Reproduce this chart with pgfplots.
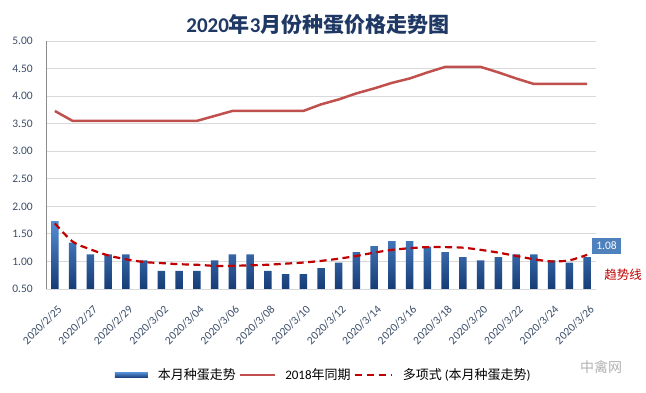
\documentclass[border=0pt]{standalone}
\usepackage{fontspec}
\setmainfont{Carlito}
\newfontfamily\cjk{Noto Sans CJK SC}
\usepackage{pgfplots}
\pgfplotsset{compat=1.18}
\definecolor{titleblue}{RGB}{31,56,100}
\definecolor{ticktext}{RGB}{60,78,104}
\definecolor{gridgray}{RGB}{217,217,217}
\definecolor{axisgray}{RGB}{140,140,140}
\definecolor{barTop}{RGB}{84,141,212}
\definecolor{barBot}{RGB}{22,60,118}
\definecolor{barMid}{RGB}{46,100,170}
\definecolor{line2018}{RGB}{192,80,77}
\definecolor{trendred}{RGB}{192,0,0}
\definecolor{labelblue}{RGB}{79,129,189}
\begin{document}
\begin{tikzpicture}
\path[use as bounding box] (0,0) rectangle (646bp,393bp);
\fill[white] (0,0) rectangle (646bp,393bp);
\node[font=\fontsize{21bp}{24bp}\selectfont\bfseries, text=titleblue] at (318bp,368bp) {2020{\cjk 年}3{\cjk 月份种蛋价格走势图}};
\begin{axis}[
  at={(46bp,104bp)}, anchor=south west,
  scale only axis, width=550bp, height=248bp,
  xmin=0.5, xmax=31.5, ymin=0.5, ymax=5,
  axis lines*=left,
  x axis line style={draw=gridgray, line width=0.8bp},
  y axis line style={draw=axisgray, line width=0.8bp},
  ymajorgrids, major grid style={draw=gridgray, line width=0.8bp},
  major tick length=0pt,
  ytick={0.5,1,1.5,2,2.5,3,3.5,4,4.5,5},
  yticklabel style={/pgf/number format/fixed, /pgf/number format/fixed zerofill, /pgf/number format/precision=2, /pgf/number format/assume math mode=true},
  yticklabel style={font=\fontsize{11.5bp}{13bp}\selectfont, text=ticktext, anchor=east, inner sep=0pt, xshift=-13bp},
  xtick={1,3,5,7,9,11,13,15,17,19,21,23,25,27,29,31},
  xticklabels={2020/2/25,2020/2/27,2020/2/29,2020/3/02,2020/3/04,2020/3/06,2020/3/08,2020/3/10,2020/3/12,2020/3/14,2020/3/16,2020/3/18,2020/3/20,2020/3/22,2020/3/24,2020/3/26},
  xticklabel style={font=\fontsize{11.5bp}{13bp}\selectfont, text=ticktext, inner sep=0pt, xshift=2bp, yshift=-15bp, rotate=45, anchor=north east},
  legend columns=3,
  legend style={at={(0.505,-0.347)}, anchor=center, draw=none, fill=none,
    font=\fontsize{13bp}{15bp}\selectfont,
    /tikz/every odd column/.append style={column sep=8bp},
    /tikz/every even column/.append style={column sep=1bp}},
]
\addplot[ybar, bar width=7.5bp, draw=none, top color=barTop, bottom color=barBot,
  legend image code/.code={\fill[barMid] (0bp,-2.6bp) rectangle (33bp,2.6bp);}]
coordinates {
(1,1.73) (2,1.34) (3,1.13) (4,1.13) (5,1.13) (6,1.02) (7,0.83) (8,0.83) (9,0.83) (10,1.02)
(11,1.13) (12,1.13) (13,0.83) (14,0.77) (15,0.77) (16,0.88) (17,0.98) (18,1.17) (19,1.28) (20,1.37)
(21,1.37) (22,1.27) (23,1.17) (24,1.08) (25,1.02) (26,1.08) (27,1.13) (28,1.13) (29,1.02) (30,0.98) (31,1.08)};
\addlegendentry{{\cjk 本月种蛋走势}}
\addplot[line2018, line width=2.5bp, line join=round,
  legend image code/.code={\draw[line2018, line width=1.5bp] (0bp,0bp) -- (35bp,0bp);}]
coordinates {
(1,3.73) (2,3.55) (3,3.55) (4,3.55) (5,3.55) (6,3.55) (7,3.55) (8,3.55) (9,3.55) (10,3.64)
(11,3.73) (12,3.73) (13,3.73) (14,3.73) (15,3.73) (16,3.85) (17,3.94) (18,4.05) (19,4.14) (20,4.24)
(21,4.32) (22,4.43) (23,4.53) (24,4.53) (25,4.53) (26,4.43) (27,4.32) (28,4.22) (29,4.22) (30,4.22) (31,4.22)};
\addlegendentry{2018{\cjk 年同期}}
\addplot[trendred, line width=2.2bp, smooth, dash pattern=on 7bp off 4.5bp,
  legend image code/.code={\draw[trendred, line width=2.2bp, dash pattern=on 7bp off 5bp] (0bp,0bp) -- (37bp,0bp);}]
coordinates {
(1,1.69) (2,1.36) (3,1.22) (4,1.11) (5,1.04) (6,0.99) (7,0.97) (8,0.95) (9,0.94) (10,0.92)
(11,0.92) (12,0.93) (13,0.94) (14,0.96) (15,0.98) (16,1.01) (17,1.05) (18,1.10) (19,1.16) (20,1.21)
(21,1.24) (22,1.26) (23,1.26) (24,1.25) (25,1.21) (26,1.16) (27,1.10) (28,1.04) (29,1.00) (30,1.02) (31,1.12)};
\addlegendentry{{\cjk 多项式} ({\cjk 本月种蛋走势})}
\end{axis}
\node[fill=labelblue, text=white, font=\fontsize{11.5bp}{13bp}\selectfont, minimum width=29bp, minimum height=16bp, inner sep=0pt] at (606.5bp,147bp) {1.08};
\node[text=trendred, font=\fontsize{12.5bp}{14bp}\selectfont\cjk] at (623bp,118bp) {趋势线};
\node[text=black!30, font=\fontsize{14bp}{16bp}\selectfont\cjk] at (601bp,26bp) {中禽网};
\end{tikzpicture}
\end{document}
